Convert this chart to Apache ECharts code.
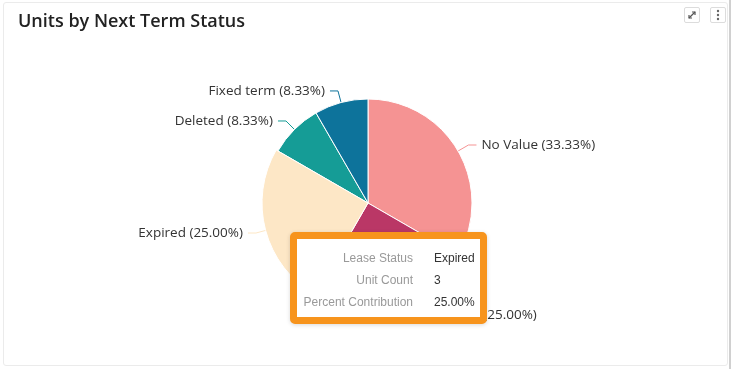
<!DOCTYPE html>
<html>
<head>
<meta charset="utf-8">
<script src="https://cdn.jsdelivr.net/npm/echarts@6/dist/echarts.min.js"></script>
<style>
  html, body { margin: 0; padding: 0; background: #fff; }
  #wrap { position: relative; width: 733px; height: 369px; overflow: hidden; }
  #card { position: absolute; left: 3px; top: 2px; width: 725px; height: 364px; border: 1px solid #ebebeb; border-radius: 3px; box-sizing: border-box; }
  #edge { position: absolute; left: 729px; top: 0; width: 2px; height: 369px; background: #d0d0d0; }
  .icon { position: absolute; top: 7px; width: 16px; height: 16px; border: 1px solid #dcdcdc; border-radius: 2px; box-sizing: border-box; background: #fff; }
  #chart { position: absolute; left: 0; top: 0; width: 733px; height: 369px; }
</style>
</head>
<body>
<div id="wrap">
  <div id="card"></div>
  <div id="edge"></div>
  <div class="icon" style="left:684px;">
    <svg width="14" height="14" viewBox="0 0 14 14" style="display:block">
      <g stroke="#555" stroke-width="1.2" fill="none">
        <line x1="4" y1="10" x2="10" y2="4"/>
        <polyline points="7,4 10,4 10,7"/>
        <polyline points="4,7 4,10 7,10"/>
      </g>
    </svg>
  </div>
  <div class="icon" style="left:710px;">
    <svg width="14" height="14" viewBox="0 0 14 14" style="display:block">
      <g fill="#666">
        <circle cx="7" cy="3" r="1.2"/>
        <circle cx="7" cy="7" r="1.2"/>
        <circle cx="7" cy="11" r="1.2"/>
      </g>
    </svg>
  </div>
  <div id="chart"></div>
</div>
<script>
const titleText = 'Units by Next Term Status';
const categories = ['No Value', 'In Renewal', 'Expired', 'Deleted', 'Fixed term'];
const unitCounts = [4, 3, 3, 1, 1];
const sliceColors = ['#F59393', '#BA3766', '#FDE7C6', '#159C96', '#0D739B'];
const tooltipFields = ['Lease Status', 'Unit Count', 'Percent Contribution'];
const shownIndex = 2;

const totalUnits = unitCounts.reduce((a, b) => a + b, 0);
function pct(v) { return (v / totalUnits * 100).toFixed(2) + '%'; }

const chart = echarts.init(document.getElementById('chart'), null, { renderer: 'canvas' });

function row(label, value) {
  return '<div style="display:flex;height:22px;line-height:22px;">' +
    '<span style="display:inline-block;width:116px;text-align:right;color:#999;">' + label + '</span>' +
    '<span style="display:inline-block;margin-left:21px;color:#333;">' + value + '</span></div>';
}

const option = {
  animation: false,
  backgroundColor: 'transparent',
  title: {
    text: titleText,
    left: 13,
    top: 8,
    textStyle: { fontFamily: 'Open Sans', fontWeight: 600, fontSize: 18, color: '#222' }
  },
  tooltip: {
    trigger: 'item',
    triggerOn: 'none',
    alwaysShowContent: true,
    transitionDuration: 0,
    position: [290, 232],
    padding: 0,
    borderWidth: 7,
    borderColor: '#F7941D',
    borderRadius: 5,
    backgroundColor: '#fff',
    textStyle: { fontFamily: 'Liberation Sans', fontSize: 12, color: '#333' },
    extraCssText: 'box-shadow: 0 1px 4px rgba(0,0,0,0.15);',
    formatter: function (p) {
      return '<div style="width:183px;height:78px;box-sizing:border-box;padding-top:8px;">' +
        row(tooltipFields[0], p.name) +
        row(tooltipFields[1], p.value) +
        row(tooltipFields[2], pct(p.value)) +
        '</div>';
    }
  },
  series: [{
    type: 'pie',
    center: [368, 203],
    radius: 104,
    startAngle: 90,
    clockwise: true,
    data: categories.map((c, i) => ({
      name: c,
      value: unitCounts[i],
      itemStyle: { color: sliceColors[i] },
      emphasis: { itemStyle: { color: sliceColors[i] } }
    })),
    itemStyle: { borderColor: '#fff', borderWidth: 1 },
    emphasis: { scale: true, scaleSize: 2, label: { fontWeight: 'normal' } },
    label: {
      show: true,
      fontFamily: 'Open Sans',
      fontSize: 13.5,
      color: '#333',
      formatter: function (p) { return p.name + ' (' + pct(p.value) + ')'; }
    },
    labelLine: { show: true, length: 12, length2: 8, lineStyle: { width: 1 } }
  }]
};

chart.setOption(option);
chart.dispatchAction({ type: 'highlight', seriesIndex: 0, dataIndex: shownIndex });
chart.dispatchAction({ type: 'showTip', seriesIndex: 0, dataIndex: shownIndex });
</script>
</body>
</html>
